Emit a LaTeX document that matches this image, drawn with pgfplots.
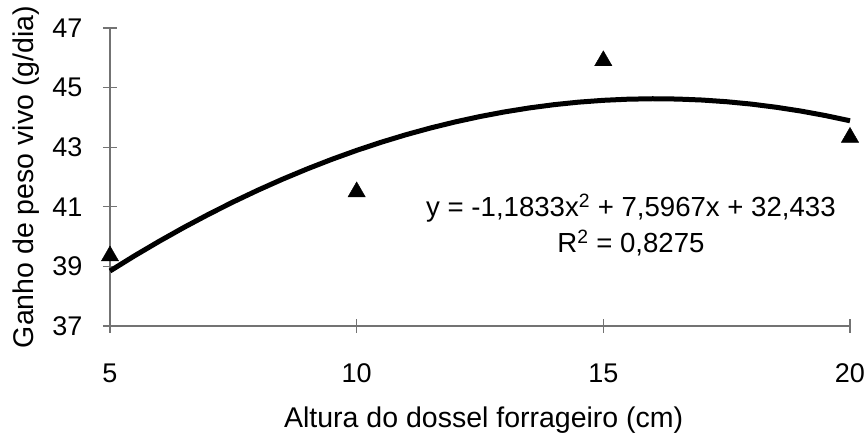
\documentclass[border=0pt]{standalone}
\usepackage{fontspec}
\setmainfont{Liberation Sans}
\usepackage{pgfplots}
\pgfplotsset{compat=1.18}
\begin{document}
\fontsize{28.5}{32}\selectfont
\begin{tikzpicture}
\path[use as bounding box] (-110pt,-110pt) rectangle (758pt,326pt);
\begin{axis}[
  at={(0pt,0pt)}, anchor=south west,
  scale only axis, width=740pt, height=298pt,
  xmin=5, xmax=20, ymin=37, ymax=47,
  xtick={5,10,15,20}, ytick={37,39,41,43,45,47},
  axis x line*=bottom, axis y line*=left,
  tick align=center, major tick length=14pt,
  tick style={black!55, line width=1.2pt},
  axis line style={black!55, line width=1.4pt},
  /pgf/number format/assume math mode=true,
  ticklabel style={font=\fontsize{27}{32}\selectfont},
  xticklabel style={yshift=-21pt},
  yticklabel style={xshift=-11pt},
  clip=false,
]
\addplot[black, line width=5pt, line join=round] coordinates {
(5.0,38.846)(5.5,39.358)(6.0,39.845)(6.5,40.309)(7.0,40.749)(7.5,41.166)
(8.0,41.559)(8.5,41.928)(9.0,42.273)(9.5,42.595)(10.0,42.893)(10.5,43.168)
(11.0,43.419)(11.5,43.646)(12.0,43.849)(12.5,44.029)(13.0,44.185)(13.5,44.318)
(14.0,44.427)(14.5,44.512)(15.0,44.573)(15.5,44.611)(16.0,44.626)(16.5,44.616)
(17.0,44.583)(17.5,44.526)(18.0,44.446)(18.5,44.341)(19.0,44.214)(19.5,44.062)
(20.0,43.887)};
\addplot[only marks, mark=triangle*, mark size=10pt, black] coordinates {
(5,39.35)(10,41.5)(15,45.9)(20,43.33)};
\node[anchor=base, font=\fontsize{27.6}{32}\selectfont] at (axis cs:15.56,40.66) {y = -1,1833x\textsuperscript{2} + 7,5967x + 32,433};
\node[anchor=base, font=\fontsize{27.6}{32}\selectfont] at (axis cs:15.56,39.45) {R\textsuperscript{2} = 0,8275};
\node[anchor=center] at (axis description cs:0.505,-0.315) {Altura do dossel forrageiro (cm)};
\node[anchor=center, rotate=90] at (axis description cs:-0.114,0.5) {Ganho de peso vivo (g/dia)};
\end{axis}
\end{tikzpicture}
\end{document}
